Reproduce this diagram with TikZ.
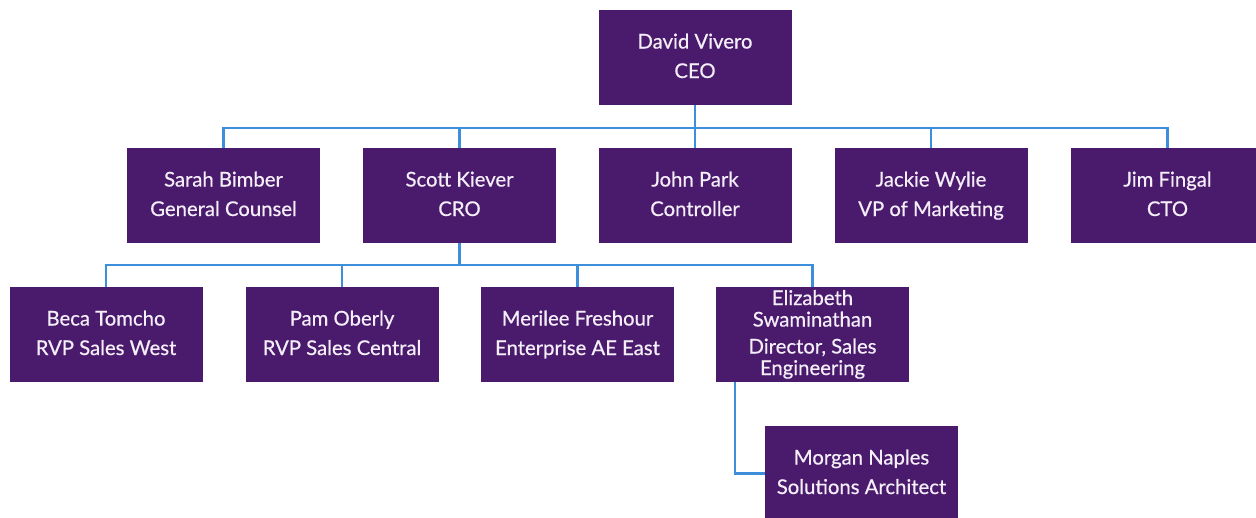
\documentclass[tikz,border=0pt]{standalone}
\usepackage{fontspec}
\setmainfont{Lato}[FakeBold=0.6,AutoFakeBold=0.6]
\definecolor{boxpurple}{HTML}{4A1A6C}
\definecolor{linkblue}{HTML}{3D8EDB}
\definecolor{boxtext}{HTML}{F4EEF8}
\begin{document}
\begin{tikzpicture}[x=1pt,y=-1pt,
  person/.style={fill=boxpurple,draw=none,minimum width=193pt,minimum height=95pt,inner sep=0pt,
    text=boxtext,align=center,font=\fontsize{20.3}{29.5}\selectfont\bfseries,
    text height=45pt,text depth=4pt},
  link/.style={draw=linkblue,line width=2.2pt}]
\useasboundingbox (0,0) rectangle (1256,517);
\clip (0,0) rectangle (1256,517);
\fill[white] (0,0) rectangle (1256,517);
\node[person] (ceo) at (695,57.5) {David Vivero\\CEO};
\node[person] (sarah) at (223.5,195.5) {Sarah Bimber\\General Counsel};
\node[person] (scott) at (459.5,195.5) {Scott Kiever\\CRO};
\node[person] (john) at (695,195.5) {John Park\\Controller};
\node[person] (jackie) at (931,195.5) {Jackie Wylie\\VP of Marketing};
\node[person] (jim) at (1167.5,195.5) {Jim Fingal\\CTO};
\node[person] (beca) at (106,334.5) {Beca Tomcho\\RVP Sales West};
\node[person] (pam) at (342,334.5) {Pam Oberly\\RVP Sales Central};
\node[person] (merilee) at (577.5,334.5) {Merilee Freshour\\Enterprise AE East};
\node[person,font=\fontsize{20.3}{21.5}\selectfont\bfseries,text height=86pt,text depth=5pt] (eliz) at (812.5,334.5) {Elizabeth\\Swaminathan\\[5.5pt]Director, Sales\\Engineering};
\node[person] (morgan) at (861.5,473.5) {Morgan Naples\\Solutions Architect};
\foreach \c in {sarah,scott,john,jackie,jim}
  \draw[link] (ceo.south) -- ++(0,23) -| (\c.north);
\foreach \c in {beca,pam,merilee,eliz}
  \draw[link] (scott.south) -- ++(0,22) -| (\c.north);
\draw[link] ([xshift=-77.5pt]eliz.south) |- (morgan.west);
\end{tikzpicture}
\end{document}
